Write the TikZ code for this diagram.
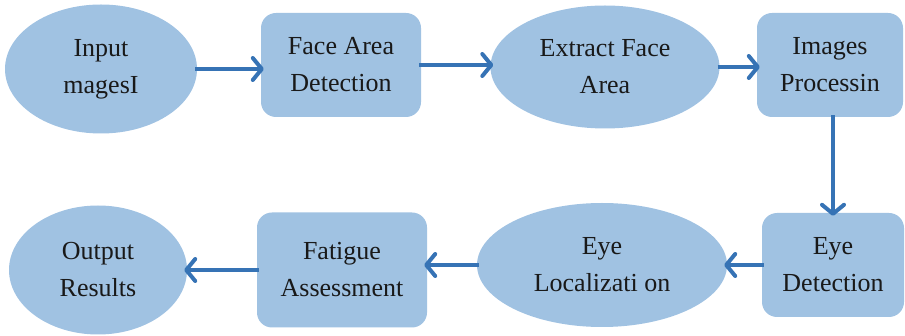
\documentclass[tikz,border=0pt]{standalone}
\usepackage{fontspec}
\setmainfont{Liberation Serif}
\newfontfamily\timesfam{Liberation Serif}
\usetikzlibrary{shapes.geometric,arrows.meta}
\definecolor{fillblue}{RGB}{160,194,226}
\definecolor{arrblue}{RGB}{54,115,181}
\begin{document}
\begin{tikzpicture}[x=1pt,y=-1pt,
  txt/.style={font=\timesfam\fontsize{26}{37}\selectfont, align=center, text=black!90, inner sep=0pt},
  oval/.style={txt, ellipse, fill=fillblue},
  rbox/.style={txt, rectangle, rounded corners=15pt, fill=fillblue},
  arr/.style={draw=arrblue, line width=3.5pt, -{Straight Barb[length=9pt,width=22pt,line width=4pt,round]}, shorten <=-2pt, shorten >=-3pt}]
\useasboundingbox (0,0) rectangle (905,336);
\node[oval, minimum width=192pt, minimum height=129pt] (in) at (101,69) {Input\\magesI};
\node[rbox, minimum width=160pt, minimum height=104pt] (fad) at (341,65) {Face Area\\Detection};
\node[oval, minimum width=229pt, minimum height=123pt] (efa) at (605,67) {Extract Face\\Area};
\node[rbox, minimum width=146pt, minimum height=104pt] (ip) at (830,65) {Images\\Processin};
\node[rbox, minimum width=142pt, minimum height=104pt] (ed) at (833,265) {Eye\\Detection};
\node[oval, minimum width=250pt, minimum height=124pt] (el) at (602,265) {Eye\\Localizati on};
\node[rbox, minimum width=170pt, minimum height=115pt] (fa) at (342,270) {Fatigue\\Assessment};
\node[oval, minimum width=178pt, minimum height=129pt] (out) at (98,270) {Output\\Results};
\draw[arr] (in) -- (in -| fad.west);
\draw[arr] (fad) -- (fad -| efa.west);
\draw[arr] (efa) -- (efa -| ip.west);
\draw[arr] (ip.south -| ed.north) -- (ed.north);
\draw[arr] (ed) -- (ed -| el.east);
\draw[arr] (el) -- (el -| fa.east);
\draw[arr] (fa) -- (fa -| out.east);
\end{tikzpicture}
\end{document}
